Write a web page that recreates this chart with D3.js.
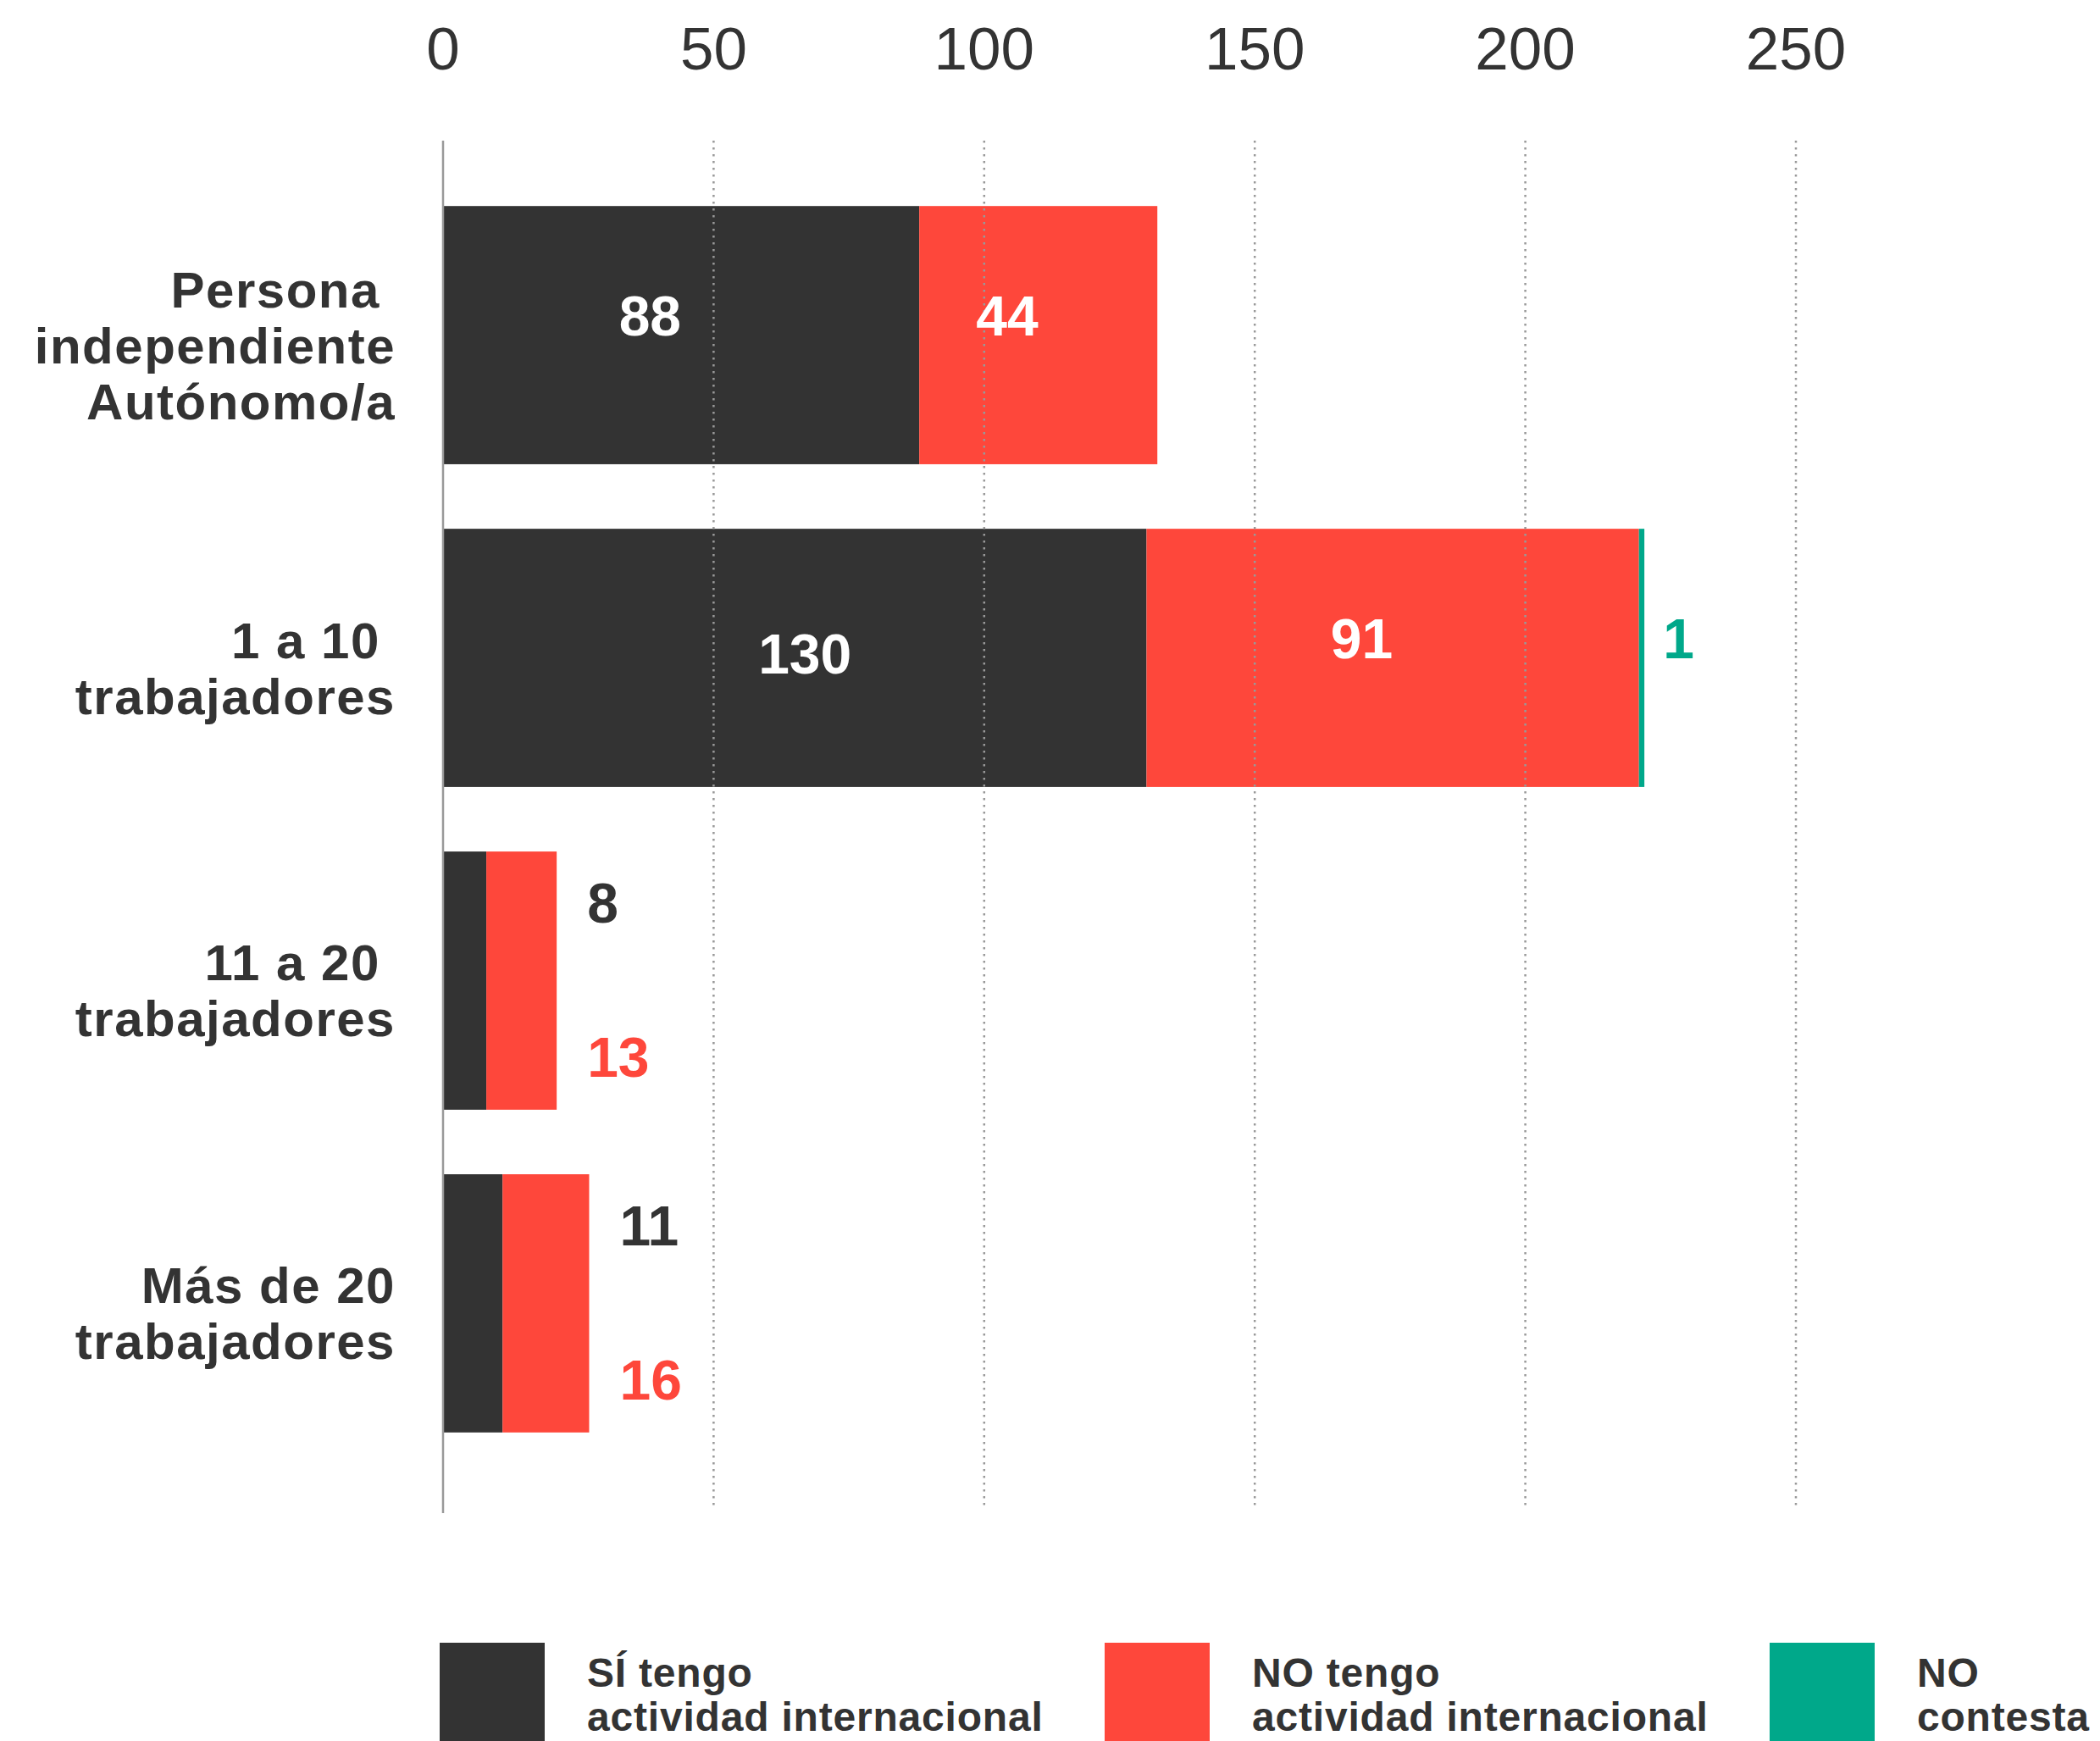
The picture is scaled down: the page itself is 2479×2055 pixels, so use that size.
<!DOCTYPE html>
<html>
<head>
<meta charset="utf-8">
<script src="https://cdn.jsdelivr.net/npm/d3@7"></script>
<style>
  body { margin: 0; background: #fff; }
  text { font-family: "Helvetica Neue", "Liberation Sans", Arial, sans-serif; fill: #333; }
</style>
</head>
<body>
<svg width="2479" height="2055"></svg>
<script>
// datos
var categories = [
  ['Persona ', 'independiente', 'Autónomo/a'],
  ['1 a 10 ', 'trabajadores'],
  ['11 a 20 ', 'trabajadores'],
  ['Más de 20', 'trabajadores']
]
var siTengo = [88, 130, 8, 11]
var noTengo = [44, 91, 13, 16]
var noContesta = [0, 1, 0, 0]
var seriesNames = [
  ['SÍ tengo', 'actividad internacional'],
  ['NO tengo', 'actividad internacional'],
  ['NO', 'contesta']
]
var seriesColors = ['#333333', '#fe473b', '#00a88a']
var xTicks = [0, 50, 100, 150, 200, 250]

var svg = d3.select('svg')

var x = d3.scaleLinear().domain([0, 250]).range([523, 2120])
var y = d3.scaleBand().domain(d3.range(categories.length)).range([167, 1767]).padding(0.2)

var rows = categories.map(function(c, i) {
  var vals = [siTengo[i], noTengo[i], noContesta[i]]
  var acc = 0
  var segs = vals.map(function(v, k) {
    var s = { row: i, series: k, value: v, x0: acc, x1: acc + v }
    acc += v
    return s
  })
  return { index: i, lines: c, segs: segs, total: acc }
})

// barras
var bars = svg.append('g')
rows.forEach(function(r) {
  bars.selectAll(null)
    .data(r.segs.filter(function(s) { return s.value > 0 }))
    .enter().append('rect')
      .attr('x', function(s) { return x(s.x0) })
      .attr('y', y(r.index))
      .attr('width', function(s) { return x(s.x1) - x(s.x0) })
      .attr('height', y.bandwidth())
      .attr('fill', function(s) { return seriesColors[s.series] })
})

// rejilla punteada
svg.append('g').selectAll('line')
  .data(xTicks.slice(1))
  .enter().append('line')
    .attr('x1', function(d) { return x(d) })
    .attr('x2', function(d) { return x(d) })
    .attr('y1', 166)
    .attr('y2', 1782)
    .attr('stroke', '#999')
    .attr('stroke-width', 2.5)
    .attr('stroke-dasharray', '2.5,5.5')

svg.append('line')
  .attr('x1', x(0)).attr('x2', x(0))
  .attr('y1', 166).attr('y2', 1786)
  .attr('stroke', '#999')
  .attr('stroke-width', 2.5)

// etiquetas del eje
svg.append('g').selectAll('text')
  .data(xTicks)
  .enter().append('text')
    .attr('x', function(d) { return x(d) })
    .attr('y', 82)
    .attr('text-anchor', 'middle')
    .style('font-size', '71px')
    .text(function(d) { return d })

// categorías
var lineH = 66
rows.forEach(function(r) {
  var c = y(r.index) + y.bandwidth() / 2
  var first = c - (r.lines.length - 2) * lineH / 2
  var t = svg.append('text')
    .attr('text-anchor', 'end')
    .style('font-size', '60px')
    .style('font-weight', 'bold')
    .style('letter-spacing', '1.5px')
    .style('white-space', 'pre')
  r.lines.forEach(function(l, j) {
    t.append('tspan')
      .attr('x', 467)
      .attr('y', first + j * lineH)
      .text(l)
  })
})

// valores
var labels = svg.append('g')
  .style('font-size', '66px')
  .style('font-weight', 'bold')
rows.forEach(function(r) {
  var top = y(r.index), c = top + y.bandwidth() / 2
  if (r.total > 100) {
    r.segs.forEach(function(s) {
      if (s.value == 0) return
      if (x(s.x1) - x(s.x0) > 100) {
        labels.append('text')
          .attr('x', (x(s.x0) + x(s.x1)) / 2 + (s.value > 99 ? 12 : 0))
          .attr('y', c + (s.value > 99 ? 18 : 0))
          .attr('text-anchor', s.value > 99 ? 'middle' : 'end')
          .style('fill', '#fff')
          .text(s.value)
      } else {
        labels.append('text')
          .attr('x', x(r.total) + 22)
          .attr('y', c)
          .style('fill', seriesColors[s.series])
          .text(s.value)
      }
    })
  } else {
    r.segs.slice(0, 2).forEach(function(s, k) {
      labels.append('text')
        .attr('x', x(r.total) + 36)
        .attr('y', top + (k == 0 ? 84 : 266))
        .style('fill', seriesColors[s.series])
        .text(s.value)
    })
  }
})

// leyenda
var legend = svg.append('g')
seriesNames.forEach(function(n, i) {
  var lx = 519 + i * 785
  legend.append('rect')
    .attr('x', lx)
    .attr('y', 1939)
    .attr('width', 124)
    .attr('height', 140)
    .attr('fill', seriesColors[i])
  var t = legend.append('text')
    .style('font-size', '48px')
    .style('font-weight', 'bold')
    .style('letter-spacing', '0.8px')
  n.forEach(function(l, j) {
    t.append('tspan')
      .attr('x', lx + 174)
      .attr('y', 1991 + j * 52)
      .text(l)
  })
})
</script>
</body>
</html>
